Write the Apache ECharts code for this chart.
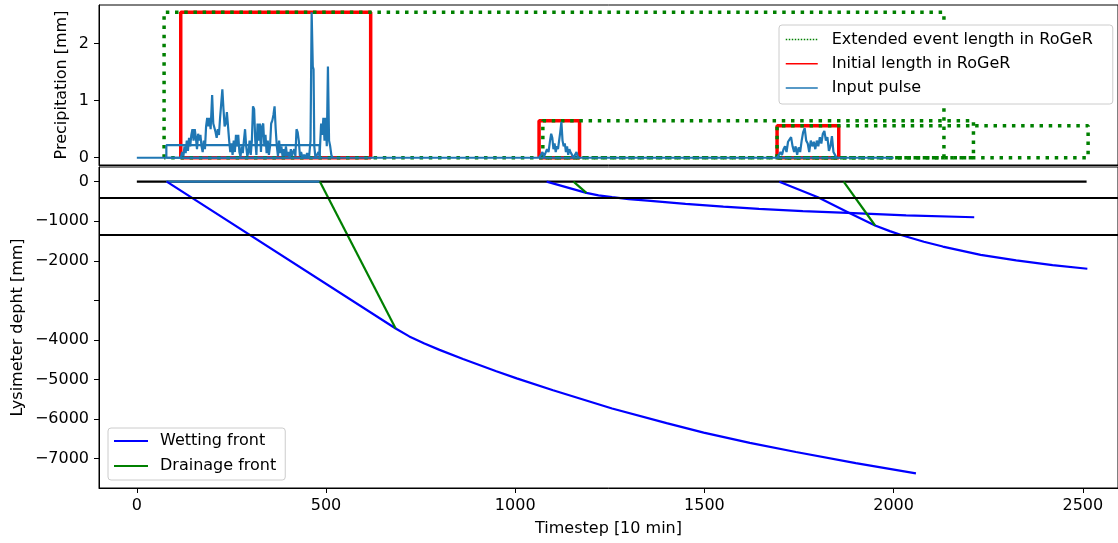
<!DOCTYPE html>
<html><head><meta charset="utf-8">
<script src="https://cdn.jsdelivr.net/npm/echarts@6/dist/echarts.min.js"></script>
<style>html,body{margin:0;padding:0;background:#fff}#c{width:1118px;height:543px}</style>
</head><body><div id="c"></div><script>
// ---- data ----
const extStart = [72, 1073, 1692];
const extEnd   = [2133, 2211, 2514];
const extTop   = [2.55, 0.65, 0.56];
const initStart = [116, 1063, 1692];
const initEnd   = [618, 1170, 1855];
const initTop   = [2.55, 0.65, 0.56];
const pulseBaseT = [0, 2000];
const pulseBlockT = [78, 483];
const pulseBlockV = 0.22;
const pulse1T = [116,120,123,126,129,132,135,138,141,144,147,150,153,156,159,162,165,168,171,174,177,180,183,186,189,192,195,199,202,205,208,211,214,217,220,223,226,229,232,235,238,241,244,247,250,253,256,259,262,265,268,271,274,277,280,283,286,289,292,295,298,301,304,307,310,313,316,319,322,325,328,331,334,337,340,343,346,349,352,355,358,361,364,367,370,373,376,379,382,385,388,391,394,397,400,404,407,410,413,416,419,422,425,428,431,434,438,442,446,450,455,459,462,465,467,469,472,476,480,483,487,490,493,496,499,502,505,508,511,514,517];
const pulse1V = [0,0.1,0.03,0.2,0.08,0.3,0.12,0.35,0.2,0.4,0.5,0.3,0.5,0.35,0.15,0.42,0.3,0.4,0.2,0.1,0.3,0.15,0.55,0.7,0.55,0.7,0.5,1.1,0.6,0.6,0.45,0.35,0.5,0.4,0.7,0.95,1.2,0.85,0.55,0.6,0.8,0.8,0.3,0.1,0.25,0.05,0.3,0.1,0.4,0.2,0.4,0.1,0.02,0.2,0.08,0.3,0.5,0.2,0.03,0.1,0.3,0.05,0.3,0.9,0.85,0.3,0.05,0.6,0.3,0.6,0.1,0.55,0.6,0.2,0.4,0.08,0.3,0.05,0.2,0.6,0.65,0.75,0.9,0.5,0.2,0.03,0.3,0.08,0.2,0.03,0.15,0.03,0.2,0.03,0.1,0,0.15,0.03,0.1,0.15,0.03,0.5,0.45,0.3,0.03,0.1,0,0.05,0,0.08,0,0.3,2.55,1.6,1.55,0.2,0,0,0.1,0.03,0.6,0.4,0.7,0.3,0.7,0.2,1.6,0.3,0.2,0.05,0];
const pulse2T = [1063,1068,1072,1076,1080,1084,1088,1092,1095,1098,1101,1104,1107,1110,1113,1116,1119,1122,1125,1128,1131,1134,1137,1140,1143,1146,1150,1154,1158,1162,1166];
const pulse2V = [0,0.05,0.1,0.02,0.05,0.15,0.1,0.3,0.42,0.35,0.15,0.25,0.1,0.2,0.15,0.3,0.45,0.63,0.3,0.2,0.25,0.1,0.2,0.05,0.15,0.1,0.05,0,0.05,0.1,0];
const pulse3T = [1692,1697,1701,1705,1709,1713,1717,1721,1725,1729,1733,1737,1741,1745,1749,1753,1757,1761,1765,1769,1773,1777,1781,1785,1789,1793,1797,1801,1805,1809,1813,1817,1821,1825,1829,1833,1837,1841,1845,1849];
const pulse3V = [0,0.05,0.1,0.05,0.15,0.2,0.1,0.28,0.3,0.36,0.2,0.1,0.2,0.05,0.18,0.1,0.3,0.45,0.52,0.3,0.25,0.1,0.3,0.2,0.28,0.15,0.3,0.2,0.36,0.25,0.42,0.47,0.3,0.36,0.12,0.2,0.38,0.1,0.05,0];
const layerDepths = [-400, -1340];
const surfaceT = [0, 2510];
const wet1T = [79, 684, 720, 760, 800, 862, 950, 1004, 1100, 1256, 1400, 1498, 1620, 1742, 1900, 2059];
const wet1D = [0, -3710, -3910, -4090, -4250, -4480, -4790, -4970, -5270, -5730, -6100, -6340, -6600, -6830, -7110, -7370];
const wet2T = [1083, 1188, 1220, 1256, 1300, 1350, 1450, 1550, 1644, 1760, 1878, 2033, 2213];
const wet2D = [0, -285, -345, -390, -440, -480, -560, -630, -690, -745, -790, -850, -900];
const wet3T = [1698, 1800, 1883, 1951, 1990, 2024, 2080, 2130, 2230, 2324, 2420, 2512];
const wet3D = [0, -395, -790, -1108, -1250, -1360, -1520, -1640, -1850, -1990, -2110, -2200];
const dr1T = [484, 684], dr1D = [0, -3710];
const dr2T = [1154, 1188], dr2D = [0, -285];
const dr3T = [1868, 1951], dr3D = [0, -1108];
const precipTicks = [0, 1, 2];
const depthTicks = [-7000, -6000, -5000, -4000, -3000, -2000, -1000, 0];
const xTicks = [0, 500, 1000, 1500, 2000, 2500];

// ---- build ----
const zip = (a, b) => a.map((v, i) => [v, b[i]]);
const rect = (x1, x2, top) => [[x1, 0], [x1, top], [x2, top], [x2, 0], [x1, 0]];
const FONT = 'DejaVu Sans';
const EXT = 'Extended event length in RoGeR', INIT = 'Initial length in RoGeR', PULSE = 'Input pulse';
const WET = 'Wetting front', DRN = 'Drainage front';
const series = [];
initStart.forEach((s, i) => series.push({
  name: INIT, type: 'line', xAxisIndex: 0, yAxisIndex: 0, symbol: 'none', silent: true,
  data: rect(s, initEnd[i], initTop[i]), lineStyle: {color: '#ff0000', width: 3.5}, itemStyle: {color: '#ff0000'}
}));
extStart.forEach((s, i) => series.push({
  name: EXT, type: 'line', xAxisIndex: 0, yAxisIndex: 0, symbol: 'none', silent: true,
  data: rect(s, extEnd[i], extTop[i]), lineStyle: {color: '#008000', width: 3.5, type: [3.5, 5.7], cap: 'butt'}, itemStyle: {color: '#008000'}
}));
const pulseStyle = {color: '#1f77b4', width: 2.2};
series.push({name: PULSE, type: 'line', xAxisIndex: 0, yAxisIndex: 0, symbol: 'none', silent: true,
  data: pulseBaseT.map(t => [t, 0]), lineStyle: pulseStyle, itemStyle: {color: '#1f77b4'}});
series.push({name: PULSE, type: 'line', xAxisIndex: 0, yAxisIndex: 0, symbol: 'none', silent: true,
  data: rect(pulseBlockT[0], pulseBlockT[1], pulseBlockV), lineStyle: pulseStyle, itemStyle: {color: '#1f77b4'}});
[[pulse1T, pulse1V], [pulse2T, pulse2V], [pulse3T, pulse3V]].forEach(([t, v]) => series.push({
  name: PULSE, type: 'line', xAxisIndex: 0, yAxisIndex: 0, symbol: 'none', silent: true,
  data: zip(t, v), lineStyle: pulseStyle, itemStyle: {color: '#1f77b4'}
}));
// bottom panel
series.push({name: 'surface', type: 'line', xAxisIndex: 1, yAxisIndex: 1, symbol: 'none', silent: true,
  data: surfaceT.map(t => [t, 0]), lineStyle: {color: '#000', width: 2.2},
  markLine: {silent: true, symbol: 'none', label: {show: false}, lineStyle: {color: '#000', width: 2.2, type: 'solid'},
    data: layerDepths.map(d => ({yAxis: d}))}});
series.push({name: 'pulse span', type: 'line', xAxisIndex: 1, yAxisIndex: 1, symbol: 'none', silent: true,
  data: pulseBlockT.map(t => [t, 0]), lineStyle: {color: '#1f77b4', width: 2.2}});
[[wet1T, wet1D], [wet2T, wet2D], [wet3T, wet3D]].forEach(([t, d]) => series.push({
  name: WET, type: 'line', xAxisIndex: 1, yAxisIndex: 1, symbol: 'none', silent: true,
  data: zip(t, d), lineStyle: {color: '#0000ff', width: 2.2}, itemStyle: {color: '#0000ff'}
}));
[[dr1T, dr1D], [dr2T, dr2D], [dr3T, dr3D]].forEach(([t, d]) => series.push({
  name: DRN, type: 'line', xAxisIndex: 1, yAxisIndex: 1, symbol: 'none', silent: true,
  data: zip(t, d), lineStyle: {color: '#008000', width: 2.2}, itemStyle: {color: '#008000'}
}));

const txt = {color: '#000', fontFamily: FONT, fontSize: 16};
const xBase = {
  type: 'value', min: -100, max: 2593,
  axisLine: {show: true, onZero: false, lineStyle: {color: '#000', width: 1}},
  splitLine: {show: false}
};
const option = {
  animation: false,
  backgroundColor: '#fff',
  textStyle: {fontFamily: FONT},
  grid: [
    {left: 99, right: -3, top: 5, height: 160, show: true, borderColor: '#000', borderWidth: 1, backgroundColor: 'transparent'},
    {left: 99, right: -3, top: 167, height: 321, show: true, borderColor: '#000', borderWidth: 1, backgroundColor: 'transparent'}
  ],
  xAxis: [
    Object.assign({}, xBase, {gridIndex: 0, axisTick: {show: false}, axisLabel: {show: false}}),
    Object.assign({}, xBase, {gridIndex: 1,
      axisTick: {show: true, length: 5, lineStyle: {color: '#000'}, customValues: xTicks},
      axisLabel: Object.assign({}, txt, {margin: 10, customValues: xTicks, formatter: v => String(v)}),
      name: 'Timestep [10 min]', nameLocation: 'middle', nameGap: 33, nameMoveOverlap: false, nameTextStyle: txt})
  ],
  yAxis: [
    {type: 'value', gridIndex: 0, min: -0.1275, max: 2.6775,
      axisLine: {show: true, onZero: false, lineStyle: {color: '#000', width: 1}},
      splitLine: {show: false},
      axisTick: {show: true, length: 5, lineStyle: {color: '#000'}, customValues: precipTicks},
      axisLabel: Object.assign({}, txt, {margin: 10, customValues: precipTicks, formatter: v => String(v)}),
      name: 'Precipitation [mm]', nameLocation: 'middle', nameGap: 29, nameMoveOverlap: false, nameTextStyle: txt},
    {type: 'value', gridIndex: 1, min: -7740, max: 370,
      axisLine: {show: true, onZero: false, lineStyle: {color: '#000', width: 1}},
      splitLine: {show: false},
      axisTick: {show: true, length: 5, lineStyle: {color: '#000'}, customValues: depthTicks},
      axisLabel: Object.assign({}, txt, {margin: 10, customValues: depthTicks,
        formatter: v => (v === -3000 ? '' : String(v).replace('-', '\u2212'))}),
      name: 'Lysimeter depht [mm]', nameLocation: 'middle', nameGap: 73, nameMoveOverlap: false, nameTextStyle: txt}
  ],
  legend: [
    {orient: 'vertical', left: 779, top: 25, padding: [6.5, 20, 8, 6], itemGap: 8.25,
      itemWidth: 32, itemHeight: 14, selectedMode: false,
      backgroundColor: '#ffffff', borderColor: '#cccccc', borderWidth: 1, borderRadius: 3,
      itemStyle: {opacity: 0},
      textStyle: Object.assign({}, txt, {padding: [0, 0, 0, 9], lineHeight: 16}),
      data: [
        {name: EXT, lineStyle: {width: 1.5, type: [1.5, 1.5]}},
        {name: INIT, lineStyle: {width: 1.5}},
        {name: PULSE, lineStyle: {width: 1.5}}
      ]},
    {orient: 'vertical', left: 108, top: 428, padding: [5, 9, 6, 5], itemGap: 9,
      itemWidth: 34, itemHeight: 14, selectedMode: false,
      backgroundColor: '#ffffff', borderColor: '#cccccc', borderWidth: 1, borderRadius: 3,
      itemStyle: {opacity: 0},
      textStyle: Object.assign({}, txt, {padding: [0, 0, 0, 7], lineHeight: 16}),
      data: [{name: WET}, {name: DRN}]}
  ],
  series: series
};
const chart = echarts.init(document.getElementById('c'), null, {renderer: 'canvas'});
chart.setOption(option);
</script></body></html>
